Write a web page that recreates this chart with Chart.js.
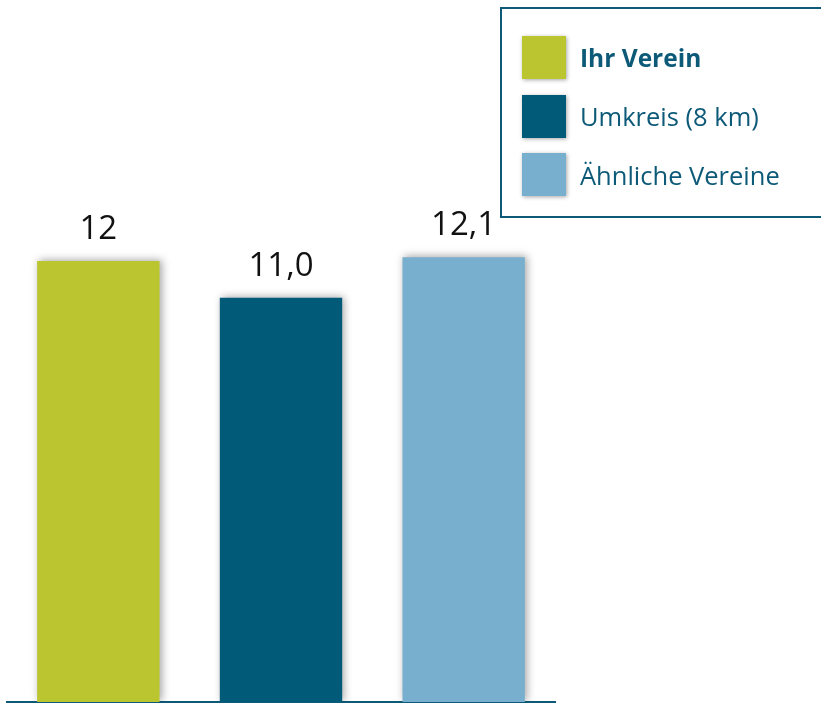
<!DOCTYPE html>
<html>
<head>
<meta charset="utf-8">
<script src="https://cdn.jsdelivr.net/npm/chart.js@4"></script>
<style>
  body { margin: 0; background: #fff; }
  #wrap { position: relative; width: 821px; height: 703px; overflow: hidden; }
  #legend {
    position: absolute; left: 500px; top: 7px; width: 340px; height: 207px;
    border: 2.5px solid #0d5a78; box-sizing: content-box;
    font-family: "Open Sans", sans-serif; color: #0d5a78;
  }
  .item { position: absolute; left: 20px; height: 43px; display: flex; align-items: center; }
  .sw { width: 44px; height: 43px; box-shadow: 1px 1px 4px rgba(0,0,0,0.35); margin-right: 14px; }
  .txt { font-size: 25.5px; }
  .txt.b { font-size: 24.5px; font-weight: bold; }
</style>
</head>
<body>
<div id="wrap">
  <canvas id="bars" width="821" height="703"></canvas>
  <div id="legend"></div>
</div>
<script>
// Kategorien + Werte
const categories = ["Ihr Verein", "Umkreis (8 km)", "Ähnliche Vereine"];
const values = [12, 11.0, 12.1];
const valueLabels = ["12", "11,0", "12,1"];
const colors = ["#bac52f", "#015a78", "#78afcf"];

// Legende
var legend = document.getElementById("legend");
categories.forEach(function (cat, i) {
  var item = document.createElement("div");
  item.className = "item";
  item.style.top = 27 + i * 58.5 + "px";
  item.innerHTML =
    '<div class="sw" style="background:' + colors[i] + '"></div>' +
    '<span class="txt' + (i == 0 ? " b" : "") + '">' + cat + "</span>";
  legend.appendChild(item);
});

// Schatten fuer die Balken
const barShadow = {
  id: "barShadow",
  beforeDatasetsDraw(chart) {
    const ctx = chart.ctx;
    ctx.save();
    ctx.shadowColor = "rgba(0,0,0,0.35)";
    ctx.shadowBlur = 8;
    ctx.shadowOffsetX = 2;
    ctx.shadowOffsetY = -1;
  },
  afterDatasetsDraw(chart) {
    chart.ctx.restore();
  },
};

// Werte ueber den Balken
const valueLabel = {
  id: "valueLabel",
  afterDatasetsDraw(chart) {
    const { ctx } = chart;
    ctx.save();
    ctx.textAlign = "center";
    ctx.textBaseline = "alphabetic";
    ctx.font = "33px 'Open Sans', sans-serif";
    ctx.fillStyle = "#111";
    chart.getDatasetMeta(0).data.forEach(function (bar, i) {
      ctx.fillText(valueLabels[i], bar.x, bar.y - 22);
    });
    ctx.restore();
  },
};

var ctx = document.getElementById("bars").getContext("2d");
var myChart = new Chart(ctx, {
  type: "bar",
  plugins: [barShadow, valueLabel],
  data: {
    labels: categories,
    datasets: [
      {
        data: values,
        backgroundColor: colors,
        categoryPercentage: 1,
        barPercentage: 0.67,
      },
    ],
  },
  options: {
    responsive: false,
    animation: false,
    layout: { padding: { top: 0, left: 7, right: 266, bottom: 1 } },
    plugins: {
      legend: { display: false },
      tooltip: { enabled: false },
    },
    scales: {
      x: {
        ticks: { display: false, padding: 0 },
        grid: { display: false, drawTicks: false, tickLength: 0 },
        border: { color: "#0d5a78", width: 2 },
      },
      y: {
        display: false,
        min: 0,
        max: 19.1,
      },
    },
  },
});
</script>
</body>
</html>
